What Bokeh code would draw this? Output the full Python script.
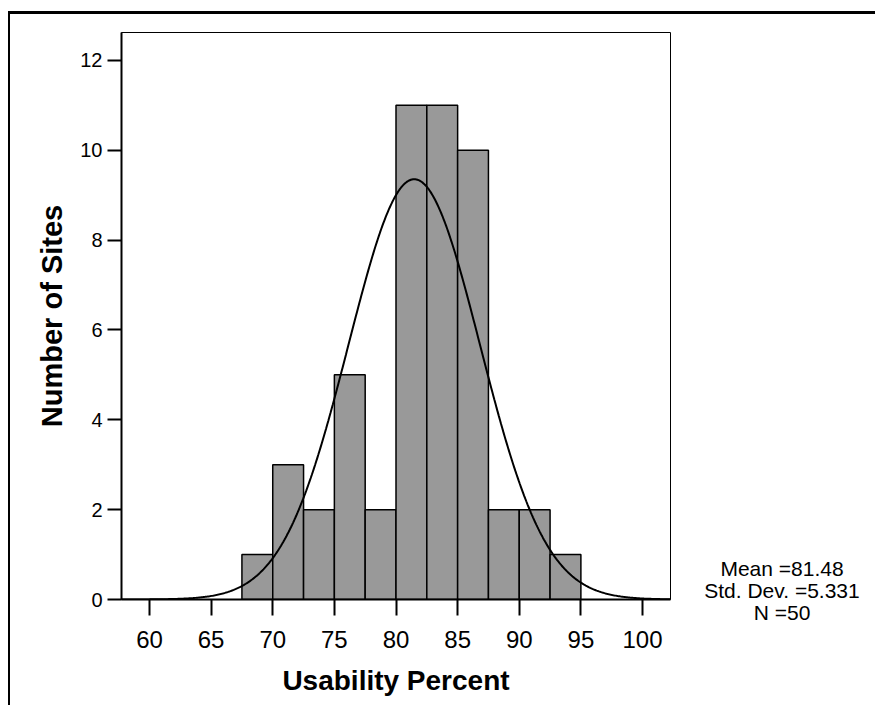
import numpy as np
from bokeh.plotting import figure
from bokeh.models import Range1d, FixedTicker, Div
from bokeh.layouts import row
from bokeh.embed import file_html
from bokeh.resources import INLINE

# ---- data ----
bin_left = [67.5, 70.0, 72.5, 75.0, 77.5, 80.0, 82.5, 85.0, 87.5, 90.0, 92.5]
bin_right = [70.0, 72.5, 75.0, 77.5, 80.0, 82.5, 85.0, 87.5, 90.0, 92.5, 95.0]
counts = [1, 3, 2, 5, 2, 11, 11, 10, 2, 2, 1]
mean_val = 81.48
std_dev = 5.331
n_sites = 50
bin_width = 2.5
x_ticks = [60, 65, 70, 75, 80, 85, 90, 95, 100]
y_ticks = [0, 2, 4, 6, 8, 10, 12]
stats_lines = ["Mean =81.48", "Std. Dev. =5.331", "N =50"]

FONT = "Liberation Sans"

x0, x1 = 57.73, 102.27
y0, y1 = 0.0, 12.62

p = figure(
    frame_width=549, frame_height=567,
    min_border_left=111, min_border_right=10,
    min_border_top=18, min_border_bottom=106,
    x_range=Range1d(x0, x1), y_range=Range1d(y0, y1),
    output_backend="svg", toolbar_location=None,
)

p.grid.visible = False
p.outline_line_color = "black"
p.outline_line_width = 1
p.background_fill_color = "white"
p.border_fill_color = "white"

# bars
p.quad(left=bin_left, right=bin_right, bottom=0, top=counts,
       fill_color="#999999", line_color="black", line_width=1.5)

# fitted normal curve
xs = np.linspace(x0, x1, 500)
ys = n_sites * bin_width * np.exp(-0.5 * ((xs - mean_val) / std_dev) ** 2) / (std_dev * np.sqrt(2 * np.pi))
p.line(xs, ys, line_color="black", line_width=2)

# axes
for ax in (p.xaxis[0], p.yaxis[0]):
    ax.axis_line_color = "black"
    ax.axis_line_width = 2
    ax.major_tick_line_color = "black"
    ax.major_tick_line_width = 2
    ax.major_tick_in = 0
    ax.minor_tick_line_color = None
    ax.major_label_text_color = "black"
    ax.major_label_text_font = FONT
    ax.axis_label_text_font = FONT
    ax.axis_label_text_font_style = "bold"
    ax.axis_label_text_color = "black"

p.xaxis[0].ticker = FixedTicker(ticks=x_ticks)
p.yaxis[0].ticker = FixedTicker(ticks=y_ticks)
p.xaxis[0].major_tick_out = 16
p.yaxis[0].major_tick_out = 14
p.xaxis[0].major_label_text_font_size = "24px"
p.yaxis[0].major_label_text_font_size = "20px"
p.xaxis[0].major_label_standoff = 15
p.yaxis[0].major_label_standoff = 5
p.xaxis[0].axis_label = "Usability Percent"
p.yaxis[0].axis_label = "Number of Sites"
p.xaxis[0].axis_label_text_font_size = "28px"
p.yaxis[0].axis_label_text_font_size = "29px"
p.xaxis[0].axis_label_standoff = 14
p.yaxis[0].axis_label_standoff = 9

# statistics text (right of plot)
stats_html = "<br>".join(stats_lines)
stats = Div(
    text=stats_html, width=180, height=120,
    styles={"font-family": FONT, "font-size": "21px", "color": "black",
            "text-align": "center", "line-height": "22px",
            "margin-top": "544px", "margin-left": "12px"},
)

layout = row(p, stats, spacing=0,
             styles={"border-top": "3px solid black", "border-left": "2px solid black",
                     "margin-top": "11px", "margin-left": "8px"})

open("out.html", "w").write(file_html(layout, INLINE))
